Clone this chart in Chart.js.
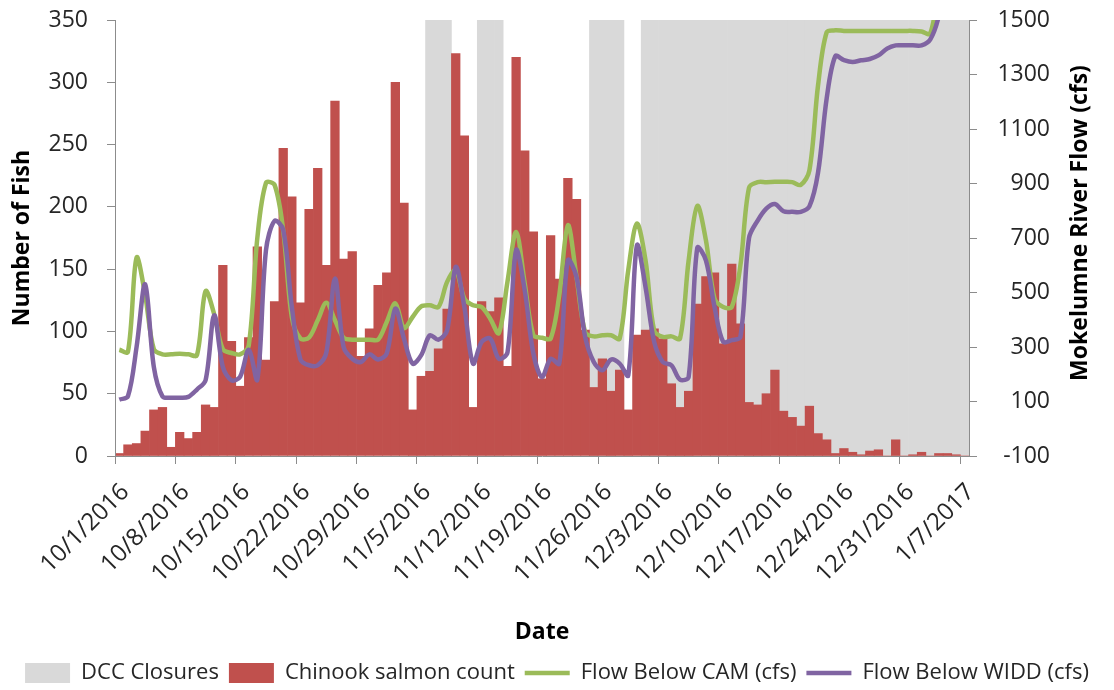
<!DOCTYPE html>
<html>
<head>
<meta charset="utf-8">
<script src="https://cdn.jsdelivr.net/npm/chart.js@4.4.1/dist/chart.umd.min.js"></script>
<style>
  html, body { margin: 0; padding: 0; background: #ffffff; }
  #wrap { position: relative; width: 1114px; height: 690px; }
</style>
</head>
<body>
<div id="wrap"><canvas id="c" width="1114" height="690"></canvas></div>
<script>
// ---------------- DATA ----------------
const categories = [
  '10/1/2016','10/2/2016','10/3/2016','10/4/2016','10/5/2016','10/6/2016','10/7/2016','10/8/2016','10/9/2016','10/10/2016',
  '10/11/2016','10/12/2016','10/13/2016','10/14/2016','10/15/2016','10/16/2016','10/17/2016','10/18/2016','10/19/2016','10/20/2016',
  '10/21/2016','10/22/2016','10/23/2016','10/24/2016','10/25/2016','10/26/2016','10/27/2016','10/28/2016','10/29/2016','10/30/2016',
  '10/31/2016','11/1/2016','11/2/2016','11/3/2016','11/4/2016','11/5/2016','11/6/2016','11/7/2016','11/8/2016','11/9/2016',
  '11/10/2016','11/11/2016','11/12/2016','11/13/2016','11/14/2016','11/15/2016','11/16/2016','11/17/2016','11/18/2016','11/19/2016',
  '11/20/2016','11/21/2016','11/22/2016','11/23/2016','11/24/2016','11/25/2016','11/26/2016','11/27/2016','11/28/2016','11/29/2016',
  '11/30/2016','12/1/2016','12/2/2016','12/3/2016','12/4/2016','12/5/2016','12/6/2016','12/7/2016','12/8/2016','12/9/2016',
  '12/10/2016','12/11/2016','12/12/2016','12/13/2016','12/14/2016','12/15/2016','12/16/2016','12/17/2016','12/18/2016','12/19/2016',
  '12/20/2016','12/21/2016','12/22/2016','12/23/2016','12/24/2016','12/25/2016','12/26/2016','12/27/2016','12/28/2016','12/29/2016',
  '12/30/2016','12/31/2016','1/1/2017','1/2/2017','1/3/2017','1/4/2017','1/5/2017','1/6/2017','1/7/2017'
];

const tickLabels = [
  '10/1/2016','10/8/2016','10/15/2016','10/22/2016','10/29/2016','11/5/2016','11/12/2016','11/19/2016',
  '11/26/2016','12/3/2016','12/10/2016','12/17/2016','12/24/2016','12/31/2016','1/7/2017'
];

// DCC closure days drawn as full-height bars on the fish axis (350), null = open
const dccClosures = [
  null,null,null,null,null,null,null,null,null,null,
  null,null,null,null,null,null,null,null,null,null,
  null,null,null,null,null,null,null,null,null,null,
  null,null,null,null,null,null,350,350,350,null,
  null,null,350,350,350,null,null,null,null,null,
  null,null,null,null,null,350,350,350,350,null,
  null,350,350,350,350,350,350,350,350,350,
  350,350,350,350,350,350,350,350,350,350,
  350,350,350,350,350,350,350,350,350,350,
  350,350,350,350,350,350,350,350,350
];

const salmonCount = [
  2, 9, 10, 20, 37, 39, 7, 19, 14, 19,
  41, 39, 153, 92, 56, 95, 168, 77, 124, 247,
  208, 123, 198, 231, 153, 285, 158, 164, 80, 102,
  137, 147, 300, 203, 37, 64, 68, 86, 118, 323,
  257, 39, 124, 116, 127, 72, 320, 245, 180, 62,
  177, 142, 223, 206, 101, 55, 78, 52, 69, 37,
  97, 101, 102, 94, 58, 39, 52, 122, 144, 147,
  90, 154, 106, 43, 41, 50, 69, 36, 31, 24,
  40, 18, 13, 2, 6, 3, 1, 4, 5, 0,
  13, 0, 1, 3, 0, 2, 2, 1, 0
];

const flowCAM = [
  290, 282, 628, 490, 292, 273, 273, 275, 273, 270,
  505, 420, 292, 278, 273, 305, 700, 902, 895, 728,
  410, 331, 335, 398, 462, 398, 334, 327, 327, 327,
  327, 392, 460, 370, 410, 449, 453, 447, 539, 582,
  478, 453, 447, 404, 351, 540, 722, 533, 343, 334,
  331, 490, 747, 557, 355, 339, 343, 343, 331, 582,
  753, 618, 361, 337, 339, 331, 618, 818, 692, 478,
  447, 447, 600, 885, 905, 905, 906, 906, 905, 895,
  948, 1260, 1455, 1462, 1460, 1460, 1460, 1460, 1460, 1460,
  1460, 1460, 1460, 1458, 1450, 1620, 1800, 1800, 1800
];

const flowWIDD = [
  107, 119, 300, 530, 227, 119, 114, 114, 117, 144,
  178, 416, 227, 178, 190, 290, 180, 655, 763, 730,
  447, 254, 233, 233, 280, 551, 300, 257, 245, 273,
  254, 276, 441, 330, 239, 270, 343, 327, 361, 594,
  447, 239, 318, 331, 257, 280, 655, 508, 276, 190,
  257, 239, 618, 557, 337, 245, 215, 254, 239, 196,
  673, 520, 319, 245, 233, 180, 190, 664, 618, 447,
  319, 325, 337, 700, 764, 808, 825, 798, 796, 796,
  816, 940, 1212, 1367, 1353, 1346, 1352, 1357, 1370, 1395,
  1407, 1407, 1407, 1407, 1428, 1515, 1700, 1700, 1700
];

const seriesNames = ['DCC Closures', 'Chinook salmon count', 'Flow Below CAM (cfs)', 'Flow Below WIDD (cfs)'];
const leftAxisTitle = 'Number of Fish';
const rightAxisTitle = 'Mokelumne River Flow (cfs)';
const xAxisTitle = 'Date';

// ---------------- CHART ----------------
const FONT = "'Open Sans', 'Noto Sans', sans-serif";
Chart.defaults.font.family = FONT;
Chart.defaults.color = '#262626';

const AXIS_GRAY = '#8c8c8c';

const rightAxisPlugin = {
  id: 'rightAxisExtras',
  afterLayout(chart) {
    // right-align the right axis tick labels a little inside the axis box
    const s = chart.scales.y1;
    s.right = s.left + 81;
  },
  afterDraw(chart) {
    const ctx = chart.ctx;
    const a = chart.chartArea;
    ctx.save();
    ctx.translate(a.right + 111, (a.top + a.bottom) / 2 - 15);
    ctx.rotate(-Math.PI / 2);
    ctx.font = "bold 23px " + FONT;
    ctx.fillStyle = '#000000';
    ctx.textAlign = 'center';
    ctx.textBaseline = 'middle';
    ctx.fillText(rightAxisTitle, 0, 0);
    ctx.restore();
  }
};

const noVPad = (s) => { s.paddingTop = 0; s.paddingBottom = 0; };

new Chart(document.getElementById('c'), {
  type: 'bar',
  data: {
    labels: categories,
    datasets: [
      {
        type: 'bar', label: seriesNames[0], data: dccClosures, yAxisID: 'y',
        backgroundColor: '#d9d9d9', borderWidth: 0, grouped: false,
        categoryPercentage: 1, barPercentage: 1, order: 4, pointStyle: 'rect'
      },
      {
        type: 'bar', label: seriesNames[1], data: salmonCount, yAxisID: 'y',
        backgroundColor: '#c0504d', borderWidth: 0, grouped: false,
        categoryPercentage: 1, barPercentage: 1, order: 3, pointStyle: 'rect'
      },
      {
        type: 'line', label: seriesNames[2], data: flowCAM, yAxisID: 'y1',
        borderColor: '#9bbb59', backgroundColor: '#9bbb59', borderWidth: 4.5,
        pointRadius: 0, tension: 0.33, fill: false, order: 2, pointStyle: 'line', clip: 0
      },
      {
        type: 'line', label: seriesNames[3], data: flowWIDD, yAxisID: 'y1',
        borderColor: '#8064a2', backgroundColor: '#8064a2', borderWidth: 4.5,
        pointRadius: 0, tension: 0.33, fill: false, order: 1, pointStyle: 'line', clip: 0
      }
    ]
  },
  options: {
    responsive: false,
    animation: false,
    layout: { padding: { top: 20, left: 0, right: 0, bottom: -4 } },
    plugins: {
      tooltip: { enabled: false },
      legend: {
        position: 'bottom',
        labels: {
          usePointStyle: true,
          pointStyleWidth: 45,
          boxHeight: 20,
          padding: 10,
          color: '#262626',
          font: { size: 22, family: FONT },
          sort: (a, b) => a.datasetIndex - b.datasetIndex
        }
      }
    },
    scales: {
      x: {
        type: 'category',
        offset: true,
        grid: {
          offset: true,
          drawOnChartArea: false,
          drawTicks: true,
          tickLength: 8,
          color: (ctx) => (ctx.index !== undefined && tickLabels.includes(categories[ctx.index])) ? AXIS_GRAY : 'rgba(0,0,0,0)'
        },
        border: { display: true, color: AXIS_GRAY, z: 1 },
        ticks: {
          autoSkip: false,
          maxRotation: 45,
          minRotation: 45,
          padding: 14,
          labelOffset: 6,
          color: '#262626',
          font: { size: 24 },
          callback: function (value, index) {
            const lab = categories[index];
            return tickLabels.includes(lab) ? lab : '';
          }
        },
        title: {
          display: true, text: xAxisTitle, color: '#000000',
          font: { size: 23, weight: 'bold' }, padding: { top: 0, bottom: 6 }
        },
        afterFit: (s) => { s.height = 196; }
      },
      y: {
        position: 'left',
        min: 0, max: 350,
        grid: { drawOnChartArea: false, drawTicks: true, tickLength: 8, color: AXIS_GRAY },
        border: { display: true, color: AXIS_GRAY, z: 1 },
        ticks: { stepSize: 50, padding: 19, color: '#262626', font: { size: 23 }, callback: (v) => String(v) },
        title: {
          display: true, text: leftAxisTitle, color: '#000000',
          font: { size: 23, weight: 'bold' }, padding: { top: 9, bottom: 0 }
        },
        afterFit: (s) => { s.width = 115; noVPad(s); }
      },
      y1: {
        position: 'right',
        min: -100, max: 1500,
        grid: { drawOnChartArea: false, drawTicks: true, tickLength: 8, color: AXIS_GRAY },
        border: { display: true, color: AXIS_GRAY, z: 1 },
        ticks: { stepSize: 200, padding: 19, crossAlign: 'far', color: '#262626', font: { size: 23 }, callback: (v) => String(v) },
        afterFit: (s) => { s.width = 145; noVPad(s); }
      }
    }
  },
  plugins: [rightAxisPlugin]
});
</script>
</body>
</html>
